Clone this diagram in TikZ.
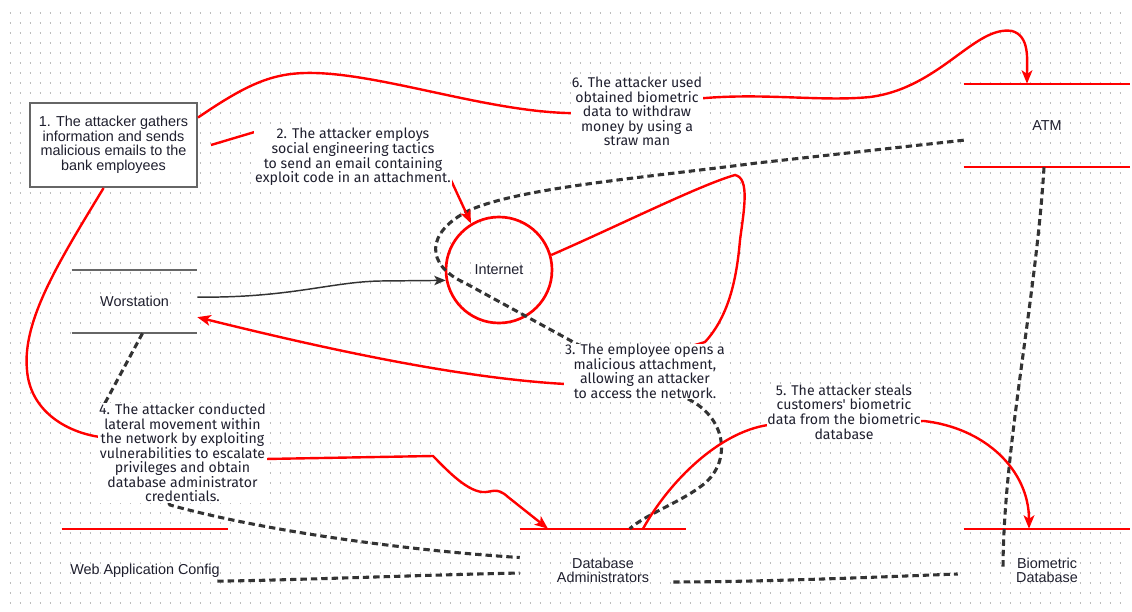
\documentclass[tikz,border=0pt]{standalone}
\usepackage{fontspec}
\setmainfont{Liberation Sans}
\newfontfamily\stepfont{Fira Sans}
\usetikzlibrary{arrows.meta}
\definecolor{flowred}{HTML}{FF0000}
\definecolor{darkline}{HTML}{333333}
\definecolor{boxgray}{HTML}{666666}
\definecolor{gridgray}{HTML}{BDBDBD}
\definecolor{labeltext}{HTML}{1F1F2E}

\begin{document}
\begin{tikzpicture}[x=0.75pt,y=-0.75pt,
    redflow/.style={draw=flowred, line width=1.8pt, -{Stealth[length=10pt,width=8pt,inset=2.5pt]}},
    dashflow/.style={draw=darkline, line width=2.3pt, dash pattern=on 4.8pt off 3pt},
    grayflow/.style={draw=darkline, line width=1.1pt, -{Stealth[length=8.5pt,width=7pt,inset=2pt]}},
    steplabel/.style={fill=white, inner sep=0.6pt, align=center, text=labeltext,
      font=\stepfont\fontsize{10.6}{10.9}\selectfont},
    store/.style={minimum width=124.5pt, minimum height=62.25pt, inner sep=0pt, align=center,
      text=labeltext, font=\fontsize{10.8}{10.9}\selectfont},
    storeline/.style={draw=flowred, line width=1.6pt},
    griddot/.style={draw=gridgray, line width=0.9pt, dash pattern=on 0.9pt off 6.6pt}]

  \fill[white] (0,0) rectangle (1132,611);
  \useasboundingbox (0,0) rectangle (1132,611);

  % dotted grid
  \foreach \gy in {13,23,...,603}
    \draw[griddot] (9.5,\gy) -- (1128,\gy);

  % data stores
  \node[store, minimum width=93.75pt, minimum height=47.25pt] (ws) at (134.5,301.5) {Worstation};
  \draw[storeline, draw=boxgray] (ws.north west) -- (ws.north east) (ws.south west) -- (ws.south east);

  \node[store] (atm) at (1047,125.5) {ATM};
  \draw[storeline] (atm.north west) -- (atm.north east) (atm.south west) -- (atm.south east);

  \node[store] (wac) at (145,570.5) {Web Application Config};
  \draw[storeline] (wac.north west) -- (wac.north east);

  \node[store] (dba) at (603,570.5) {Database\\Administrators};
  \draw[storeline] (dba.north west) -- (dba.north east);

  \node[store] (bio) at (1047,570.5) {Biometric\\Database};
  \draw[storeline] (bio.north west) -- (bio.north east);

  % processes
  \node[circle, draw=flowred, line width=2pt, minimum size=79.5pt, inner sep=0pt,
    text=labeltext, font=\fontsize{10.8}{10.9}\selectfont] (inet) at (499,270) {Internet};

  \node[rectangle, draw=boxgray, fill=white, line width=1.5pt, minimum width=125.25pt,
    minimum height=63pt, align=center, text=labeltext,
    font=\fontsize{10.8}{10.9}\selectfont] (gather) at (113.5,145) {1. The attacker gathers\\information and sends\\malicious emails to the\\bank employees};

  % dashed flows
  \draw[dashflow] (atm.190) -- (757,163) .. controls (640,178) and (520,188) .. (470,210)
    .. controls (425,232) and (425,265) .. (465,283) -- (575,343) -- (690,400)
    .. controls (728,420) and (732,465) .. (700,487) .. controls (680,502) and (645,515) .. ([xshift=20pt]dba.north);
  \draw[dashflow] ([xshift=6pt]ws.south) -- (105,403) -- (170,505)
    .. controls (260,530) and (400,550) .. ([yshift=9.75pt]dba.west);
  \draw[dashflow] ([shift={(-8.25pt,-8pt)}]wac.east) .. controls (300,580) and (420,575) .. ([yshift=-1.9pt]dba.west);
  \draw[dashflow] ([shift={(-9.75pt,-8.6pt)}]dba.east) .. controls (760,582) and (880,577) .. ([shift={(-4.5pt,-2.6pt)}]bio.west);
  \draw[dashflow] ([xshift=-2.25pt]atm.south) .. controls (1036,300) and (1003,450) .. ([xshift=-33pt]bio.center);

  % red flows
  \draw[redflow] (gather.18) .. controls (250,82) and (275,72) .. (315,73)
    .. controls (390,75) and (500,116) .. (585,113) -- (695,99)
    .. controls (760,92) and (820,102) .. (870,97) .. controls (940,88) and (975,25) .. (1012,31)
    .. controls (1030,36) and (1027,60) .. ([xshift=-15pt]atm.north);
  \draw[redflow] ([xshift=9.75pt]gather.east) -- (258,131) -- (450,178) -- (inet.121);
  \draw[redflow] (inet.16) .. controls (620,225) and (700,185) .. (735,175)
    .. controls (750,178) and (744,210) .. (740,240) .. controls (737,275) and (730,315) .. (705,342)
    -- (565,384) .. controls (460,378) and (330,350) .. (ws.-14);
  \draw[redflow] (gather.-103) .. controls (60,260) and (22,320) .. (27,370)
    .. controls (30,410) and (65,432) .. (100,437) -- (265,459) -- (433,456)
    .. controls (445,468) and (465,490) .. (482,492) .. controls (492,493) and (496,486) .. (508,497)
    -- ([xshift=-41.25pt]dba.north);
  \draw[redflow] ([xshift=30pt]dba.north) .. controls (670,480) and (720,432) .. (768,425) -- (924,421)
    .. controls (985,428) and (1029,470) .. ([xshift=-13.5pt]bio.north);
  \draw[grayflow] (ws.4) .. controls (290,298) and (330,282) .. (380,281) -- (inet.191);

  % step labels
  \node[steplabel] (steptwo) at (353,157) {2. The attacker employs\\social engineering tactics\\to send an email containing\\exploit code in an attachment.};
  \node[steplabel] (stepthree) at (645,371.5) {3. The employee opens a\\malicious attachment,\\allowing an attacker\\to access the network.};
  \node[steplabel] (stepfour) at (182.5,453) {4. The attacker conducted\\lateral movement within\\the network by exploiting\\vulnerabilities to escalate\\privileges and obtain\\database administrator\\credentials.};
  \node[steplabel] (stepfive) at (844,412) {5. The attacker steals\\customers' biometric\\data from the biometric\\database};
  \node[steplabel] (stepsix) at (637,111.5) {6. The attacker used\\obtained biometric\\data to withdraw\\money by using a\\straw man};
\end{tikzpicture}
\end{document}
